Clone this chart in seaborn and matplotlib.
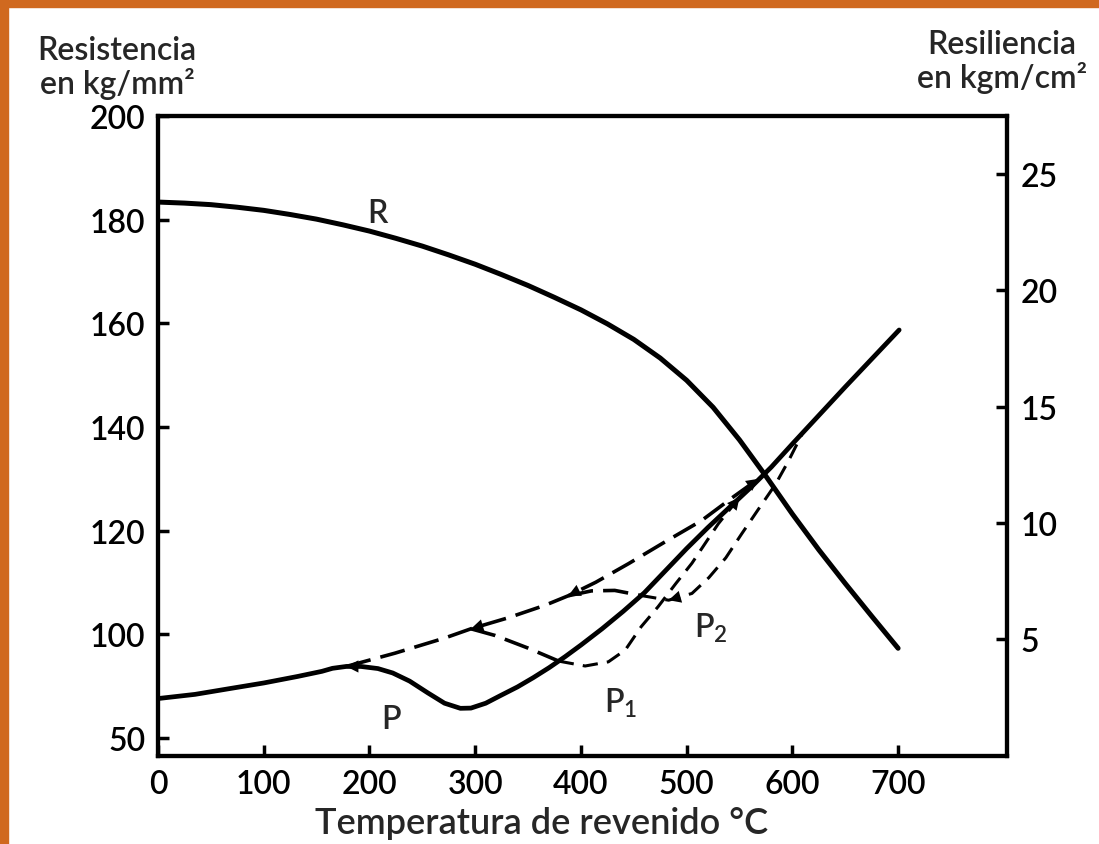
import matplotlib
matplotlib.use("Agg")
import matplotlib.pyplot as plt
import seaborn as sns
from matplotlib.patches import Rectangle

# Temperatura de revenido (C) / resistencia R (kg/mm2, eje izquierdo)
temp_r = [0, 25, 50, 75, 100, 125, 150, 175, 200, 225, 250, 275, 300, 325, 350,
          375, 400, 425, 450, 475, 500, 525, 550, 575, 600, 625, 650, 675, 700]
res_r = [183.4, 183.2, 182.9, 182.4, 181.8, 181.0, 180.1, 179.0, 177.8, 176.4,
         174.9, 173.2, 171.4, 169.4, 167.3, 165.0, 162.6, 159.9, 156.9, 153.3,
         149.0, 143.8, 137.5, 130.5, 123.2, 116.3, 109.8, 103.5, 97.3]

# Resiliencia P (kgm/cm2, eje derecho), curva continua
temp_p = [0, 35, 68, 100, 132, 155, 165, 178, 192, 208, 222, 238, 255, 271, 286,
          296, 310, 324, 340, 355, 370, 385, 400, 420, 440, 460, 480, 500, 520,
          540, 560, 580, 600, 650, 701]
res_p = [2.45, 2.63, 2.88, 3.12, 3.40, 3.62, 3.75, 3.83, 3.83, 3.74, 3.55, 3.20,
         2.70, 2.25, 2.03, 2.04, 2.25, 2.58, 2.95, 3.35, 3.78, 4.25, 4.75, 5.45,
         6.20, 7.00, 7.95, 8.90, 9.80, 10.65, 11.50, 12.40, 13.40, 15.85, 18.30]

# tramos a trazos
temp_d1 = [178, 224, 271, 296, 331, 366, 388, 414, 445, 480, 514, 545, 568]
res_d1 = [3.83, 4.40, 5.05, 5.45, 5.92, 6.46, 6.87, 7.45, 8.25, 9.20, 10.1, 11.15, 11.9]
temp_b1 = [296, 319, 350, 379]
res_b1 = [5.45, 5.16, 4.62, 4.06]
temp_b2 = [388, 410, 432, 457]
res_b2 = [6.87, 7.08, 7.10, 6.88]
temp_p1 = [379, 404, 426, 442, 457, 473, 490, 505, 530, 550, 568]
res_p1 = [4.06, 3.85, 4.03, 4.54, 5.54, 6.40, 7.41, 8.27, 9.97, 11.1, 11.9]
temp_p2 = [457, 483, 505, 521, 537, 552, 568, 584, 596, 610]
res_p2 = [6.88, 6.68, 6.97, 7.65, 8.50, 9.53, 10.6, 11.66, 12.64, 13.9]

x_ticks = [0, 100, 200, 300, 400, 500, 600, 700]
left_ticks = [80, 100, 120, 140, 160, 180, 200]
left_labels = ["50", "100", "120", "140", "160", "180", "200"]
right_ticks = [5, 10, 15, 20, 25]

sns.set_theme(style="white")
plt.rcParams["font.family"] = ["Lato", "DejaVu Sans"]
plt.rcParams["font.weight"] = "semibold"

fig = plt.figure(figsize=(10.99, 8.45), dpi=100)
ax = fig.add_axes([158 / 1099, 0.1047, (1007 - 158) / 1099, 0.7568])
ax2 = ax.twinx()

sns.lineplot(x=temp_r, y=res_r, ax=ax, color="black", linewidth=3.6)
sns.lineplot(x=temp_p, y=res_p, ax=ax2, color="black", linewidth=3.4)

dashed = [(temp_d1, res_d1, 2.6, (7, 2.8)),
          (temp_b1, res_b1, 2.6, (7, 2.8)),
          (temp_b2, res_b2, 2.6, (7, 2.8)),
          (temp_p1, res_p1, 2.2, (5, 3)),
          (temp_p2, res_p2, 2.2, (5, 3))]
for tx, ry, lw, dash in dashed:
    sns.lineplot(x=tx, y=ry, ax=ax2, color="black", linewidth=lw)
    ax2.lines[-1].set_dashes(dash)


def arrow(tx, ry, i, j):
    ax2.annotate("", xy=(tx[i], ry[i]), xytext=(tx[j], ry[j]),
                 arrowprops=dict(arrowstyle="-|>", color="black", lw=0,
                                 mutation_scale=22, shrinkA=0, shrinkB=0))


arrow(temp_p, res_p, 7, 8)
arrow(temp_d1, res_d1, 3, 4)
arrow(temp_d1, res_d1, 6, 7)
arrow(temp_p2, res_p2, 1, 2)
arrow(temp_p1, res_p1, 9, 8)
arrow(temp_d1, res_d1, 12, 11)

ax.set_xlim(0, 803)
ax.set_ylim(76.6, 200)
ax2.set_ylim(0, 27.5)
ax.set_xticks(x_ticks)
ax.set_yticks(left_ticks)
ax.set_yticklabels(left_labels)
ax2.set_yticks(right_ticks)
ax.xaxis.get_major_ticks()[0].tick1line.set_visible(False)
ax.yaxis.get_major_ticks()[-1].tick1line.set_visible(False)

for a in (ax, ax2):
    for s in a.spines.values():
        s.set_linewidth(3)
        s.set_color("black")
ax.tick_params(axis="both", direction="in", length=8, width=2.5, labelsize=23,
               colors="black", left=True, bottom=True)
ax.tick_params(axis="y", pad=9)
ax.tick_params(axis="x", pad=10)
ax2.tick_params(axis="y", direction="in", length=8, width=2.5, labelsize=23,
                colors="black", right=True, pad=10)
ax.set_xlabel("")
ax.set_ylabel("")
ax2.set_ylabel("")

ax.text(208, 181.2, "R", fontsize=23, ha="center", va="center")
ax2.text(220, 1.57, "P", fontsize=23, ha="center", va="center")
ax2.text(438, 2.3, "P$_\\mathregular{1}$", fontsize=23, ha="center", va="center")
ax2.text(523, 5.5, "P$_\\mathregular{2}$", fontsize=23, ha="center", va="center")

fig.text(117 / 1099, 1 - 68 / 845, "Resistencia\nen kg/mm²", fontsize=23,
         ha="center", va="center", linespacing=1.1)
fig.text(1002 / 1099, 1 - 62 / 845, "Resiliencia\nen kgm/cm²", fontsize=23,
         ha="center", va="center", linespacing=1.1)
fig.text(542 / 1099, 1 - 824 / 845, "Temperatura de revenido °C", fontsize=26,
         ha="center", va="center")

orange = "#d0691f"
fig.patches.append(Rectangle((0, 1 - 8 / 845), 1, 8 / 845, transform=fig.transFigure,
                             color=orange, zorder=10))
fig.patches.append(Rectangle((0, 0), 8 / 1099, 1, transform=fig.transFigure,
                             color=orange, zorder=10))

fig.savefig("out.png", dpi=100, facecolor="white")
